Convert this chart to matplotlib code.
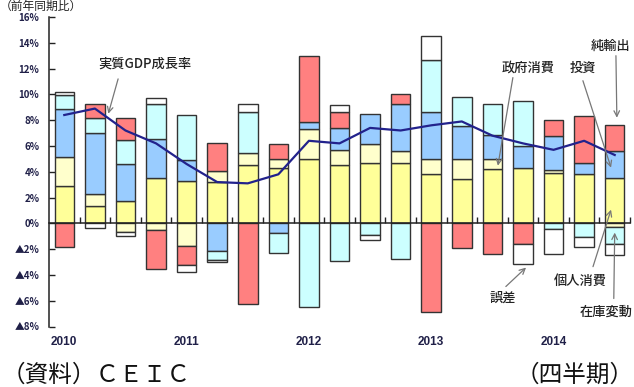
import matplotlib
matplotlib.use('Agg')
import numpy as np
import matplotlib.pyplot as plt

plt.rcParams['font.family'] = ['Noto Sans CJK JP', 'DejaVu Sans']

# 2010Q1 - 2014Q3, contributions to real GDP growth (%pt)
quarters = np.arange(19)
year_labels = ['2010', '2011', '2012', '2013', '2014']
year_pos = [0, 4, 8, 12, 16]

personal = [2.9, 1.37, 1.70, 3.53, 3.32, 3.22, 4.51, 4.30, 4.95, 4.51,
            4.64, 4.64, 3.79, 3.43, 4.2, 4.3, 3.94, 3.79, 3.53]
government = [2.25, 0.87, -0.64, -0.52, -1.75, 0.83, 0.98, 0.65, 2.4, 1.21,
              1.49, 0.95, 1.16, 1.52, 0.75, 0.0, 0.18, 0.0, -0.3]
investment = [3.7, 4.77, 2.91, 3.04, 1.6, -2.14, 0.0, -0.72, 0.51, 1.7,
              2.37, 3.69, 3.68, 2.58, 1.93, 1.68, 2.63, 0.9, 2.06]
inventory = [1.08, 1.16, 1.83, 2.71, 3.51, -0.7, 3.14, -1.55, -6.49, -2.89,
             -0.9, -2.76, 4.0, 2.26, 2.4, 3.5, -0.44, -1.08, -1.31]
net_exports = [-1.86, 1.11, 1.73, -3.04, -1.47, 2.21, -6.26, 1.18, 5.08, 1.21,
               0.0, 0.77, -6.91, -1.93, -2.37, -1.6, 1.24, 3.61, 2.06]
error = [0.26, -0.34, -0.34, 0.44, -0.57, -0.18, 0.65, 0.0, 0.0, 0.52,
         -0.39, 0.0, 1.93, 0.0, 0.0, -1.54, -1.93, -0.72, -0.82]
gdp = [8.4, 8.9, 7.2, 6.2, 4.6, 3.2, 3.1, 3.8, 6.4, 6.2,
       7.4, 7.2, 7.6, 7.9, 6.8, 6.2, 5.7, 6.4, 5.3]

series = [personal, government, investment, inventory, net_exports, error]
colors = ['#FFFF99', '#FFFFCC', '#99CCFF', '#CCFFFF', '#FF8080', '#FFFFFF']

fig = plt.figure(figsize=(6.34, 3.87), dpi=100)
ax = fig.add_axes([49/634, 1-326.5/387, 581/634, 309.5/387])

pos_bottom = np.zeros(len(quarters))
neg_bottom = np.zeros(len(quarters))
for vals, c in zip(series, colors):
    v = np.array(vals)
    pos = np.where(v > 0, v, 0)
    neg = np.where(v < 0, v, 0)
    m = pos > 0
    ax.bar(quarters[m], pos[m], bottom=pos_bottom[m], width=0.64, color=c,
           edgecolor='#333333', linewidth=1.0, zorder=2)
    m = neg < 0
    ax.bar(quarters[m], neg[m], bottom=neg_bottom[m], width=0.64, color=c,
           edgecolor='#333333', linewidth=1.0, zorder=2)
    pos_bottom += pos
    neg_bottom += neg

ax.plot(quarters, gdp, color='#22228c', lw=1.6, zorder=3)

ax.set_xlim(-0.5, 18.5)
ax.set_ylim(-8, 16)
ax.spines['top'].set_visible(False)
ax.spines['right'].set_visible(False)
ax.spines['bottom'].set_position(('data', 0))
ax.spines['left'].set_color('#222222')
ax.spines['bottom'].set_color('#222222')
ax.spines['left'].set_linewidth(1.1)
ax.spines['bottom'].set_linewidth(1.1)

tick_font = ['Liberation Sans', 'Noto Sans CJK JP']
yt = np.arange(-8, 17, 2)
ax.set_yticks(yt)
ax.set_yticklabels([('▲%d%%' % -t) if t < 0 else ('%d%%' % t) for t in yt],
                   family=['Noto Sans CJK JP'], fontweight='bold', fontsize=7,
                   color='#202048')
ax.tick_params(axis='y', direction='in', length=4, width=1, pad=7, colors='#222222',
               labelcolor='#202048')
ax.set_xticks(np.arange(0.5, 18.6, 1))
ax.set_xticklabels([])
ax.tick_params(axis='x', direction='in', length=4, width=1, colors='#222222')

for lab, p in zip(year_labels, year_pos):
    ax.text(p, -0.05, lab, transform=ax.get_xaxis_transform(), ha='center', va='center',
            family=tick_font, fontweight='bold', fontsize=8.5, color='#202048')

# annotations (text, text pos, arrow start, arrow tip)
notes = [
    ('実質GDP成長率', (2.65, 12.38), (1.76, 11.2), (1.44, 8.5)),
    ('政府消費', (15.16, 12.07), (14.67, 11.3), (14.18, 4.47)),
    ('投資', (16.96, 12.07), (16.96, 11.06), (17.88, 4.32)),
    ('純輸出', (17.88, 13.78), (18.04, 13.0), (18.07, 8.19)),
    ('誤差', (14.35, -5.79), (14.44, -4.9), (15.1, -3.43)),
    ('個人消費', (16.86, -4.44), (17.29, -3.36), (17.88, 1.06)),
    ('在庫変動', (17.71, -6.86), (17.97, -5.83), (18.0, -0.72)),
]
for txt, tp, a0, a1 in notes:
    ax.text(tp[0], tp[1], txt, ha='center', va='center', fontsize=9.5, color='#222222',
            fontweight='medium', zorder=5)
    ax.annotate('', xy=a1, xytext=a0,
                arrowprops=dict(arrowstyle='->', color='#777777', lw=0.9,
                                shrinkA=0, shrinkB=0), zorder=4)

fig.text(0.0, 1.0, '（前年同期比）', fontsize=8.5, color='#222222', ha='left', va='top')
fig.text(2/634, 1 - 375/387, '（資料）ＣＥＩＣ', fontsize=17, color='#111111',
         ha='left', va='center')
fig.text(634/634, 1 - 375/387, '（四半期）', fontsize=17, color='#111111',
         ha='right', va='center')

fig.savefig('out.png', dpi=100)
